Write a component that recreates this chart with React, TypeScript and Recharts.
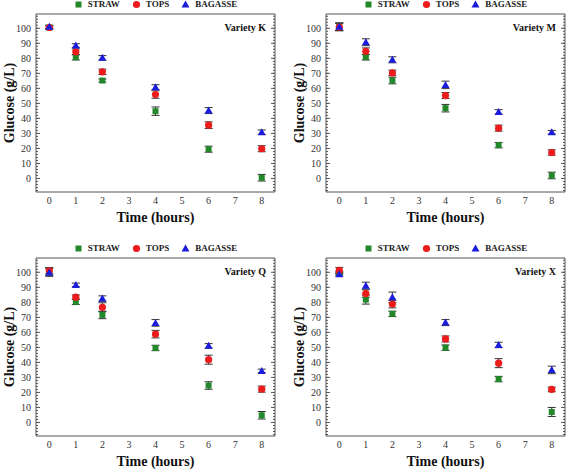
import React from 'react';
import { ScatterChart, Scatter, XAxis, YAxis, ErrorBar, Legend } from 'recharts';

// sampling times (hours)
const times = [0, 1, 2, 4, 6, 8];

const xTicks = [0, 1, 2, 3, 4, 5, 6, 7, 8];
const yTicks = [0, 10, 20, 30, 40, 50, 60, 70, 80, 90, 100];
const xMinor = Array.from({ length: 37 }, (_, i) => -0.5 + i * 0.25);
const yMinor = Array.from({ length: 59 }, (_, i) => -8 + i * 2);

// Variety K
const kStraw = [100.5, 80.7, 65.2, 44.8, 19.5, 0.5];
const kStrawErr = [1.2, 1.8, 1.0, 2.8, 2.0, 2.2];
const kTops = [100.5, 84.3, 71.0, 55.9, 35.5, 19.8];
const kTopsErr = [1.2, 2.0, 1.8, 2.5, 2.2, 2.0];
const kBagasse = [101.0, 88.5, 80.3, 60.8, 45.2, 30.8];
const kBagasseErr = [1.0, 1.2, 1.5, 1.6, 2.0, 1.5];

// Variety M
const mStraw = [101.0, 80.7, 65.2, 46.8, 22.2, 2.0];
const mStrawErr = [2.5, 1.8, 2.2, 2.5, 1.8, 2.2];
const mTops = [100.8, 84.7, 70.3, 55.2, 33.5, 17.3];
const mTopsErr = [2.5, 2.2, 1.8, 2.0, 2.0, 1.8];
const mBagasse = [101.0, 90.7, 79.0, 62.3, 44.3, 30.8];
const mBagasseErr = [2.5, 2.3, 2.0, 2.5, 1.5, 1.2];

// Variety Q
const qStraw = [100.5, 80.3, 71.6, 49.6, 24.6, 4.8];
const qStrawErr = [2.5, 1.8, 2.5, 1.8, 2.5, 2.5];
const qTops = [101.0, 83.4, 76.7, 58.8, 41.8, 22.2];
const qTopsErr = [2.0, 1.5, 3.0, 2.5, 3.0, 2.0];
const qBagasse = [99.8, 91.6, 82.5, 66.3, 51.0, 34.3];
const qBagasseErr = [2.5, 1.2, 1.8, 2.2, 1.5, 1.2];

// Variety X
const xStraw = [99.5, 81.8, 72.3, 49.8, 28.9, 7.0];
const xStrawErr = [1.2, 3.0, 1.8, 1.8, 1.8, 3.0];
const xTops = [101.2, 85.8, 78.8, 55.6, 39.5, 22.0];
const xTopsErr = [2.0, 2.5, 2.5, 2.0, 3.0, 1.5];
const xBagasse = [98.7, 91.1, 83.3, 66.5, 51.6, 35.0];
const xBagasseErr = [1.2, 2.3, 3.5, 2.0, 1.8, 2.5];

const GREEN = '#22882a';
const RED = '#ec1c1c';
const BLUE = '#1c1cdc';
const FRAME = '#555';
const SERIF = '"Liberation Serif", "Times New Roman", serif';

const xDomain: [number, number] = [-0.5, 8.5];
const yDomain: [number, number] = [-9, 109.5];

const legendItems = [
  { name: 'STRAW', color: GREEN, kind: 'square' },
  { name: 'TOPS', color: RED, kind: 'circle' },
  { name: 'BAGASSE', color: BLUE, kind: 'triangle' },
];

const Marker = ({ kind, color, cx, cy }: any) => {
  if (kind === 'square') return <rect x={cx - 3} y={cy - 3} width={6} height={6} fill={color} />;
  if (kind === 'circle') return <circle cx={cx} cy={cy} r={3.6} fill={color} />;
  return <polygon points={`${cx},${cy - 4} ${cx + 4},${cy + 3} ${cx - 4},${cy + 3}`} fill={color} />;
};

const renderLegend = () => (
  <div style={{ display: 'flex', justifyContent: 'center', alignItems: 'center', fontFamily: SERIF, fontSize: 9, fontWeight: 'bold', color: '#222' }}>
    {legendItems.map((it) => (
      <div key={it.name} style={{ display: 'flex', alignItems: 'center', margin: '0 6px' }}>
        <svg width={9} height={9} style={{ marginRight: 5 }}>
          <Marker kind={it.kind} color={it.color} cx={4.5} cy={4.5} />
        </svg>
        <span>{it.name}</span>
      </div>
    ))}
  </div>
);

const build = (vals: number[], errs: number[]) => times.map((t, i) => ({ t, v: vals[i], e: errs[i] }));

const noLabel = () => <g />;

// frame tick marks pointing inward, drawn with near-zero-size mirrored axes
const frameAxes = () => {
  const common = { type: 'number' as const, tick: noLabel, allowDataOverflow: true, interval: 0 as const, tickLine: { stroke: FRAME } };
  return [
    <XAxis key="bmin" xAxisId="bmin" orientation="bottom" mirror height={0.01} domain={xDomain} ticks={xMinor} tickSize={2} axisLine={false} {...common} />,
    <XAxis key="bmaj" xAxisId="bmaj" orientation="bottom" mirror height={0.01} domain={xDomain} ticks={xTicks} tickSize={4} axisLine={false} {...common} />,
    <XAxis key="tmin" xAxisId="tmin" orientation="top" mirror height={0.01} domain={xDomain} ticks={xMinor} tickSize={2} axisLine={false} {...common} />,
    <XAxis key="tmaj" xAxisId="tmaj" orientation="top" mirror height={0.01} domain={xDomain} ticks={xTicks} tickSize={4} axisLine={{ stroke: FRAME }} {...common} />,
    <YAxis key="lmin" yAxisId="lmin" orientation="left" mirror width={0.01} domain={yDomain} ticks={yMinor} tickSize={2} axisLine={false} {...common} />,
    <YAxis key="lmaj" yAxisId="lmaj" orientation="left" mirror width={0.01} domain={yDomain} ticks={yTicks} tickSize={4} axisLine={false} {...common} />,
    <YAxis key="rmin" yAxisId="rmin" orientation="right" mirror width={0.01} domain={yDomain} ticks={yMinor} tickSize={2} axisLine={false} {...common} />,
    <YAxis key="rmaj" yAxisId="rmaj" orientation="right" mirror width={0.01} domain={yDomain} ticks={yTicks} tickSize={4} axisLine={{ stroke: FRAME }} {...common} />,
  ];
};

function Panel({ title, series }: { title: string; series: [number[], number[]][] }) {
  const tickStyle = { fontSize: 10, fill: '#333', fontFamily: SERIF };
  return (
    <ScatterChart width={277} height={225} margin={{ top: 14, right: 2, bottom: 0, left: 0 }}>
      {frameAxes()}
      <XAxis
        xAxisId="x"
        dataKey="t"
        type="number"
        domain={xDomain}
        ticks={xTicks}
        interval={0}
        allowDataOverflow
        height={33}
        tickSize={0}
        tickMargin={5}
        tickLine={false}
        axisLine={{ stroke: FRAME }}
        tick={tickStyle}
        label={{ value: 'Time (hours)', position: 'insideBottom', offset: 3, style: { fontFamily: SERIF, fontSize: 14, fontWeight: 'bold', fill: '#111' } }}
      />
      <YAxis
        yAxisId="y"
        dataKey="v"
        type="number"
        domain={yDomain}
        ticks={yTicks}
        interval={0}
        allowDataOverflow
        width={36}
        tickSize={0}
        tickMargin={5}
        tickLine={false}
        axisLine={{ stroke: FRAME }}
        tick={tickStyle}
        label={{ value: 'Glucose (g/L)', angle: -90, position: 'insideLeft', offset: 9, style: { textAnchor: 'middle', fontFamily: SERIF, fontSize: 14, fontWeight: 'bold', fill: '#111' } }}
      />
      <Legend verticalAlign="middle" align="center" content={renderLegend} wrapperStyle={{ top: -1, left: 36, width: 239 }} />
      {series.map(([vals, errs], i) => (
        <Scatter
          key={legendItems[i].name}
          name={legendItems[i].name}
          xAxisId="x"
          yAxisId="y"
          data={build(vals, errs)}
          isAnimationActive={false}
          shape={(p: any) => <Marker kind={legendItems[i].kind} color={legendItems[i].color} cx={p.cx} cy={p.cy} />}
        >
          <ErrorBar dataKey="e" direction="y" width={4} stroke="#333" strokeWidth={1} />
        </Scatter>
      ))}
      <text x={266} y={31} textAnchor="end" fontFamily={SERIF} fontSize={10} fontWeight="bold" fill="#111">
        {title}
      </text>
    </ScatterChart>
  );
}

export default function App() {
  return (
    <div style={{ position: 'absolute', left: 0, top: 0, width: 567, height: 469, background: '#fff' }}>
      <div style={{ position: 'absolute', left: 0, top: 0 }}>
        <Panel title="Variety K" series={[[kStraw, kStrawErr], [kTops, kTopsErr], [kBagasse, kBagasseErr]]} />
      </div>
      <div style={{ position: 'absolute', left: 290, top: 0 }}>
        <Panel title="Variety M" series={[[mStraw, mStrawErr], [mTops, mTopsErr], [mBagasse, mBagasseErr]]} />
      </div>
      <div style={{ position: 'absolute', left: 0, top: 244 }}>
        <Panel title="Variety Q" series={[[qStraw, qStrawErr], [qTops, qTopsErr], [qBagasse, qBagasseErr]]} />
      </div>
      <div style={{ position: 'absolute', left: 290, top: 244 }}>
        <Panel title="Variety X" series={[[xStraw, xStrawErr], [xTops, xTopsErr], [xBagasse, xBagasseErr]]} />
      </div>
    </div>
  );
}
